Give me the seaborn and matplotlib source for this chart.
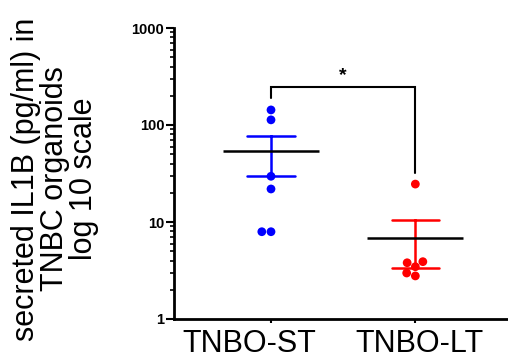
import numpy as np
import pandas as pd
import matplotlib
matplotlib.use("Agg")
import matplotlib.pyplot as plt
import matplotlib.ticker as mticker
import matplotlib.transforms as mtransforms
import seaborn as sns

# ---- data ----
groups = ["TNBO-ST", "TNBO-LT"]
st_values = [143, 113, 29.6, 21.9, 7.94, 7.94]
lt_values = [24.6, 3.90, 2.78, 3.46, 3.80, 2.98]
ytick_values = [1, 10, 100, 1000]
ytick_labels = ["1", "10", "100", "1000"]
colors = ["#0000FF", "#FF0000"]
sig_label = "*"
ylabel = "secreted IL1B (pg/ml) in\nTNBC organoids\nlog 10 scale"

df = pd.DataFrame({
    "group": [groups[0]] * len(st_values) + [groups[1]] * len(lt_values),
    "value": st_values + lt_values,
})

sns.set_style("white")
plt.rcParams["font.family"] = ["Liberation Sans", "DejaVu Sans"]
plt.rcParams.update({"text.color": "black", "axes.labelcolor": "black",
                     "xtick.color": "black", "ytick.color": "black"})

fig = plt.figure(figsize=(5.08, 3.58), dpi=100)
ax = fig.add_axes([174 / 508, 39 / 358, 333 / 508, 291 / 358])

# mean +/- SEM error bars (computed in linear space)
sns.pointplot(data=df, x="group", y="value", hue="group", palette=colors,
              order=groups, hue_order=groups, errorbar="se", capsize=0.33,
              marker="", linestyle="none", err_kws={"linewidth": 1.8},
              legend=False, ax=ax)
# mean line
sns.pointplot(data=df, x="group", y="value", order=groups, color="black",
              errorbar=None, marker="_", markersize=69, markeredgewidth=1.8,
              linestyle="none", ax=ax)

ax.set_yscale("log")
ax.set_ylim(1, 1000)
ax.set_xlim(-0.672, 1.635)

sns.swarmplot(data=df, x="group", y="value", hue="group", palette=colors,
              order=groups, hue_order=groups, size=6.3, legend=False, ax=ax,
              zorder=3)
ax.set_xlim(-0.672, 1.635)
ax.set_ylim(1, 1000)

# significance bracket
left_top = max(st_values) * 1.33
right_top = max(lt_values) * 1.31
bar_y = max(st_values) * 1.74
ax.plot([0, 0, 1, 1], [left_top, bar_y, bar_y, right_top], color="black",
        lw=1.5, solid_joinstyle="miter", clip_on=False)
ax.text(0.5, bar_y * 1.05, sig_label, ha="center", va="bottom",
        fontsize=14, fontweight="bold")

sns.despine(ax=ax)
for s in ["left", "bottom"]:
    ax.spines[s].set_linewidth(2)
    ax.spines[s].set_color("black")

ax.yaxis.set_major_locator(mticker.FixedLocator(ytick_values))
ax.yaxis.set_major_formatter(mticker.FixedFormatter(ytick_labels))
ax.yaxis.set_minor_locator(mticker.LogLocator(base=10, subs=np.arange(2, 10)))
ax.yaxis.set_minor_formatter(mticker.NullFormatter())
ax.tick_params(axis="y", which="major", length=6, width=1.5, pad=1,
               labelsize=10.5, left=True, direction="out", colors="black")
ax.tick_params(axis="y", which="minor", length=3, width=1.2, left=True,
               colors="black")
for lab in ax.get_yticklabels():
    lab.set_fontweight("bold")
ax.tick_params(axis="x", length=3, width=1.5, pad=4.5, labelsize=22,
               bottom=True, colors="black")

# nudge category labels horizontally like the reference
shifts_px = [-22, 4.5]
for lab, dx in zip(ax.get_xticklabels(), shifts_px):
    lab.set_transform(lab.get_transform() +
                      mtransforms.ScaledTranslation(dx / 100, 0, fig.dpi_scale_trans))

ax.set_xlabel("")
ax.set_ylabel("")
fig.text(55 / 508, 0.5, ylabel, rotation=90, ha="center", va="center",
         multialignment="center", fontsize=22, linespacing=0.95)

fig.savefig("out.png", dpi=100)
